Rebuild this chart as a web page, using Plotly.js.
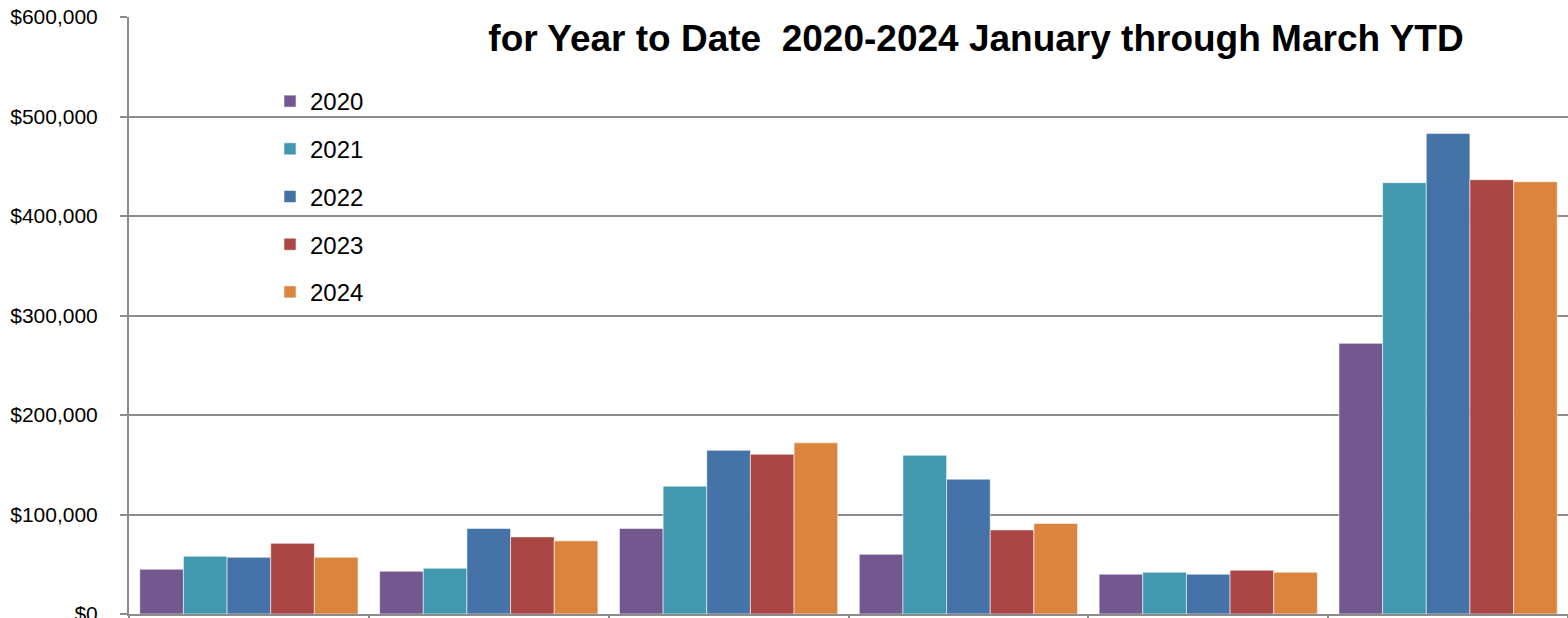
<!DOCTYPE html>
<html>
<head>
<meta charset="utf-8">
<script src="https://cdn.plot.ly/plotly-3.0.1.min.js"></script>
<style>html,body{margin:0;padding:0;background:#fff;}#chart{width:1568px;height:618px;}</style>
</head>
<body>
<div id="chart"></div>
<script>
const categories = ["Group 1", "Group 2", "Group 3", "Group 4", "Group 5", "Group 6"];
const years = ["2020", "2021", "2022", "2023", "2024"];
const v2020 = [45000, 43000, 86000, 60000, 40000, 272000];
const v2021 = [58000, 46000, 128500, 159500, 42000, 433500];
const v2022 = [57000, 86000, 164500, 135500, 40000, 483000];
const v2023 = [71000, 77500, 160500, 84500, 44000, 436500];
const v2024 = [57000, 73500, 172000, 91000, 42000, 434500];
const seriesValues = [v2020, v2021, v2022, v2023, v2024];
const colors = ["#72588F", "#4198AF", "#4572A7", "#AA4643", "#DB843D"];
const titleText = "for Year to Date  2020-2024 January through March YTD";

const traces = years.map((y, i) => ({
  type: "bar",
  name: y,
  x: categories,
  y: seriesValues[i],
  legendgroup: "g" + i,
  marker: {color: colors[i], line: {color: "rgba(255,255,255,0.55)", width: 1}},
  hoverinfo: "y+name"
}));

const layout = {
  width: 1568,
  height: 618,
  margin: {l: 129, r: 0, t: 17, b: 4, pad: 0},
  paper_bgcolor: "#ffffff",
  plot_bgcolor: "#ffffff",
  barmode: "group",
  bargap: 0.09,
  bargroupgap: 0,
  font: {family: "Liberation Sans, Arial, sans-serif", color: "#000"},
  title: {
    text: "<b>" + titleText + "</b>",
    font: {family: "Liberation Sans, Arial, sans-serif", size: 37, color: "#000"},
    xref: "container", yref: "container",
    x: 976 / 1568, xanchor: "center",
    y: 1 - 38 / 618, yanchor: "middle"
  },
  xaxis: {
    type: "category",
    showticklabels: false,
    ticks: "outside",
    tickson: "boundaries",
    ticklen: 6,
    tickwidth: 2,
    tickcolor: "#8c8c8c",
    showline: true,
    linecolor: "#8c8c8c",
    linewidth: 2,
    showgrid: false,
    zeroline: false
  },
  yaxis: {
    range: [0, 600000],
    dtick: 100000,
    tick0: 0,
    tickprefix: "$",
    tickformat: ",.0f",
    ticks: "outside",
    ticklen: 7,
    tickwidth: 2,
    tickcolor: "#8c8c8c",
    ticklabelstandoff: 18,
    ticklabeloverflow: "allow",
    showline: true,
    linecolor: "#8c8c8c",
    linewidth: 2,
    showgrid: true,
    gridcolor: "#8c8c8c",
    gridwidth: 2,
    zeroline: false,
    tickfont: {size: 21, color: "#000", family: "Liberation Sans, Arial, sans-serif"}
  },
  showlegend: true,
  legend: {
    x: (270 - 129) / 1439,
    xanchor: "left",
    y: 1 - (79 - 17) / 597,
    yanchor: "top",
    bgcolor: "rgba(0,0,0,0)",
    borderwidth: 0,
    font: {size: 24, color: "#000", family: "Liberation Sans, Arial, sans-serif"},
    tracegroupgap: 13.5,
    traceorder: "grouped"
  }
};

Plotly.newPlot("chart", traces, layout, {displayModeBar: false, staticPlot: true});
</script>
</body>
</html>
